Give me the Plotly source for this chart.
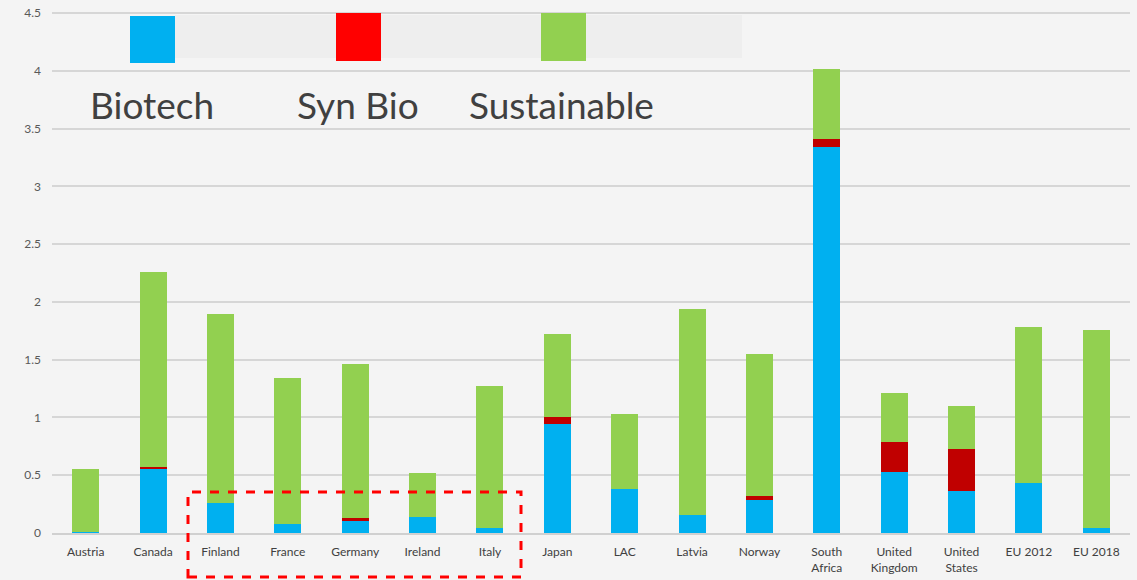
import plotly.graph_objects as go

categories = ["Austria", "Canada", "Finland", "France", "Germany", "Ireland", "Italy",
              "Japan", "LAC", "Latvia", "Norway", "South<br>Africa", "United<br>Kingdom",
              "United<br>States", "EU 2012", "EU 2018"]
biotech = [0.01, 0.55, 0.26, 0.08, 0.10, 0.14, 0.04, 0.94, 0.38, 0.16, 0.29, 3.34, 0.53, 0.36, 0.43, 0.04]
synbio = [0.00, 0.02, 0.00, 0.00, 0.03, 0.00, 0.00, 0.06, 0.00, 0.00, 0.03, 0.07, 0.26, 0.37, 0.00, 0.00]
sustainable = [0.54, 1.69, 1.64, 1.26, 1.33, 0.38, 1.23, 0.72, 0.65, 1.78, 1.23, 0.61, 0.42, 0.37, 1.35, 1.72]
y_ticks = [0, 0.5, 1, 1.5, 2, 2.5, 3, 3.5, 4, 4.5]
y_tick_text = ["0", "0.5", "1", "1.5", "2", "2.5", "3", "3.5", "4", "4.5"]

BLUE = "#00B0F0"
RED = "#C00000"
GREEN = "#92D050"

fig = go.Figure()
fig.add_trace(go.Bar(x=categories, y=biotech, name="Biotech", marker_color=BLUE, marker_line_width=0))
fig.add_trace(go.Bar(x=categories, y=synbio, name="Syn Bio", marker_color=RED, marker_line_width=0))
fig.add_trace(go.Bar(x=categories, y=sustainable, name="Sustainable", marker_color=GREEN, marker_line_width=0))

W, H = 1137, 580
L, R, T, B = 52, 7, 12, 47
pw, ph = W - L - R, H - T - B
X0, Y1 = L, T + ph  # page pixel of plot left and plot bottom


def px(x):
    return (x - X0) / pw


def py(y):
    return (Y1 - y) / ph


shapes = [
    # legend band
    dict(type="rect", xref="paper", yref="paper", x0=px(175), x1=px(742), y0=py(58), y1=py(15),
         fillcolor="#EEEEEE", line_width=0, layer="above"),
    dict(type="rect", xref="paper", yref="paper", x0=px(130), x1=px(175), y0=py(63), y1=py(16),
         fillcolor="#00B0F0", line_width=0),
    dict(type="rect", xref="paper", yref="paper", x0=px(336), x1=px(381), y0=py(61), y1=py(13),
         fillcolor="#FF0000", line_width=0),
    dict(type="rect", xref="paper", yref="paper", x0=px(541), x1=px(586), y0=py(61), y1=py(13),
         fillcolor="#92D050", line_width=0),
    # red dashed highlight box
    dict(type="rect", xref="paper", yref="paper", x0=px(188), x1=px(521), y0=py(577), y1=py(492),
         line=dict(color="#FF0000", width=3, dash="dash"), fillcolor="rgba(0,0,0,0)"),
]

annotations = []
for label, xl in [("Biotech", 88), ("Syn Bio", 295), ("Sustainable", 467)]:
    annotations.append(dict(text=label, xref="paper", yref="paper", x=px(xl), y=py(104),
                            xanchor="left", yanchor="middle", showarrow=False,
                            font=dict(family="Lato", size=37, color="#404040")))

fig.update_layout(
    width=W, height=H,
    margin=dict(l=L, r=R, t=T, b=B, autoexpand=False),
    barmode="stack",
    bargap=0.6,
    showlegend=False,
    paper_bgcolor="#F4F4F4",
    plot_bgcolor="#F4F4F4",
    font=dict(family="Lato", size=12, color="#595959"),
    shapes=shapes,
    annotations=annotations,
    xaxis=dict(showgrid=False, showline=True, linecolor="#D0D0D0", linewidth=1.5,
               tickfont=dict(size=12, color="#404040"), ticks="", ticklabelstandoff=7),
    yaxis=dict(range=[0, 4.51], tickvals=y_ticks, ticktext=y_tick_text, showgrid=True,
               gridcolor="#D6D6D6", gridwidth=1.5, zeroline=False, showline=False,
               ticklabeloverflow="allow",
               tickfont=dict(size=12, color="#595959"), ticks="", ticklabelstandoff=10),
)

fig.write_html("out.html", config={"displayModeBar": False},
               post_script="document.body.style.margin='0';")
